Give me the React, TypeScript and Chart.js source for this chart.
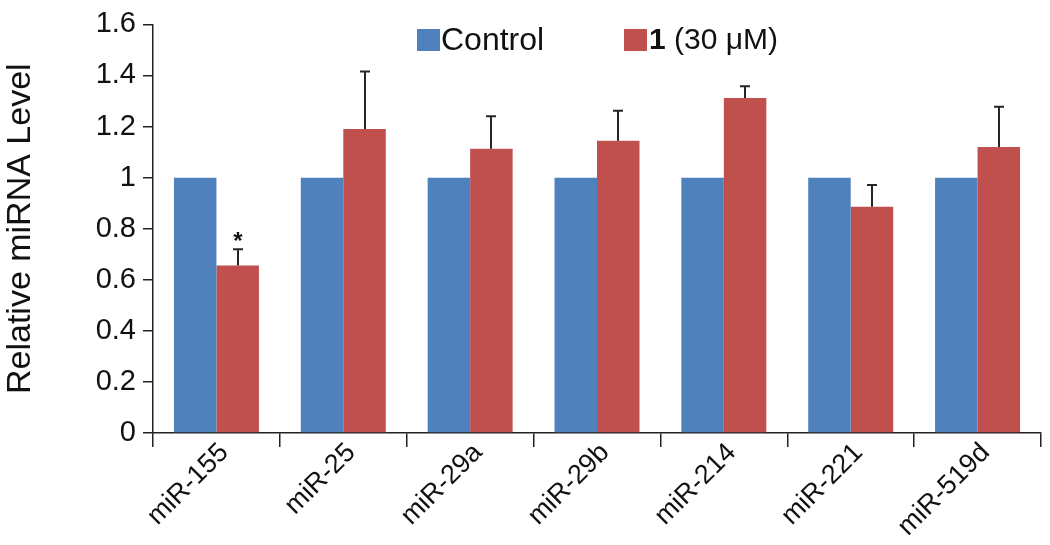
import React, { useEffect, useRef } from "react";
import { Chart, registerables } from "chart.js";

Chart.register(...registerables);

const categories = ["miR-155", "miR-25", "miR-29a", "miR-29b", "miR-214", "miR-221", "miR-519d"];
const controlValues = [1, 1, 1, 1, 1, 1, 1];
const treatedValues = [0.656, 1.19, 1.113, 1.144, 1.312, 0.886, 1.12];
const treatedErrors = [0.064, 0.226, 0.127, 0.118, 0.046, 0.085, 0.158];
const significance = ["*", "", "", "", "", "", ""];
const seriesNames = ["Control", "1 (30 μM)"];
const yTickValues = [0, 0.2, 0.4, 0.6, 0.8, 1, 1.2, 1.4, 1.6];

const BLUE = "#4F81BD";
const RED = "#C0504D";
const FONT = "Arial, 'Liberation Sans', sans-serif";

const errorBarPlugin = {
  id: "errorBars",
  afterDatasetsDraw(chart: any) {
    const ctx = chart.ctx;
    const yScale = chart.scales.y;
    const meta = chart.getDatasetMeta(1);
    ctx.save();
    ctx.strokeStyle = "#262626";
    ctx.lineWidth = 2;
    meta.data.forEach((bar: any, i: number) => {
      const x = Math.round(bar.x);
      const yTop = yScale.getPixelForValue(treatedValues[i] + treatedErrors[i]);
      const yBase = bar.y;
      ctx.beginPath();
      ctx.moveTo(x, yBase);
      ctx.lineTo(x, yTop);
      ctx.moveTo(x - 5, yTop);
      ctx.lineTo(x + 5, yTop);
      ctx.stroke();
      if (significance[i]) {
        ctx.fillStyle = "#111";
        ctx.font = `bold 24px ${FONT}`;
        ctx.textAlign = "center";
        ctx.textBaseline = "middle";
        ctx.fillText(significance[i], x, yTop - 7);
      }
    });
    ctx.restore();
  },
};

const legendPlugin = {
  id: "customLegend",
  afterDraw(chart: any) {
    const ctx = chart.ctx;
    ctx.save();
    const boxY = 29;
    const boxSize = 22;
    const textY = 41;
    // Control
    ctx.fillStyle = BLUE;
    ctx.fillRect(417, boxY, 23, boxSize);
    ctx.fillStyle = "#111";
    ctx.font = `32px ${FONT}`;
    ctx.textBaseline = "middle";
    ctx.textAlign = "left";
    ctx.fillText(seriesNames[0], 441, textY);
    // Treated
    ctx.fillStyle = RED;
    ctx.fillRect(624, boxY, 23, boxSize);
    ctx.fillStyle = "#111";
    const parts = seriesNames[1].split(" ");
    const boldPart = parts[0];
    const rest = " " + parts.slice(1).join(" ");
    ctx.font = `bold 30px ${FONT}`;
    ctx.fillText(boldPart, 649, textY);
    const w = ctx.measureText(boldPart).width;
    ctx.font = `30px ${FONT}`;
    ctx.fillText(rest, 649 + w, textY);
    ctx.restore();
  },
};

export default function App() {
  const canvasRef = useRef<HTMLCanvasElement | null>(null);

  useEffect(() => {
    if (!canvasRef.current) return;
    const chart = new Chart(canvasRef.current, {
      type: "bar",
      data: {
        labels: categories,
        datasets: [
          {
            label: seriesNames[0],
            data: controlValues,
            backgroundColor: BLUE,
            borderWidth: 0,
            categoryPercentage: 0.67,
            barPercentage: 1.0,
          },
          {
            label: seriesNames[1],
            data: treatedValues,
            backgroundColor: RED,
            borderWidth: 0,
            categoryPercentage: 0.67,
            barPercentage: 1.0,
          },
        ],
      },
      options: {
        responsive: false,
        animation: false,
        layout: { padding: { top: 16, right: 9, left: 0, bottom: 0 } },
        plugins: {
          legend: { display: false },
          tooltip: { enabled: false },
        },
        scales: {
          x: {
            grid: {
              display: true,
              drawOnChartArea: false,
              drawTicks: true,
              tickLength: 14,
              color: "#222",
              lineWidth: 1.5,
              offset: true,
            },
            border: { display: true, color: "#222", width: 1.5 },
            ticks: {
              autoSkip: false,
              maxRotation: 45,
              minRotation: 45,
              color: "#111",
              padding: -10,
              labelOffset: 8,
              font: { family: FONT, size: 27 },
            },
            afterFit(scale: any) {
              scale.height = 112;
            },
          },
          y: {
            min: 0,
            max: 1.6,
            afterBuildTicks(scale: any) {
              scale.ticks = yTickValues.map((v) => ({ value: v }));
            },
            grid: {
              display: true,
              drawOnChartArea: false,
              drawTicks: true,
              tickLength: 10,
              color: "#222",
              lineWidth: 1.5,
            },
            border: { display: true, color: "#222", width: 1.5 },
            ticks: {
              color: "#111",
              padding: 7,
              font: { family: FONT, size: 29 },
              callback: (v: any) => String(Number(Number(v).toFixed(1))),
            },
            title: {
              display: true,
              text: "Relative miRNA Level",
              color: "#111",
              font: { family: FONT, size: 34 },
              padding: { top: 0, bottom: 0 },
            },
            afterFit(scale: any) {
              scale.width = 153;
            },
          },
        },
      },
      plugins: [errorBarPlugin, legendPlugin],
    });
    return () => chart.destroy();
  }, []);

  return (
    <div style={{ position: "absolute", left: 0, top: 0, width: 1050, height: 545, background: "#fff" }}>
      <canvas ref={canvasRef} width={1050} height={545} />
    </div>
  );
}
